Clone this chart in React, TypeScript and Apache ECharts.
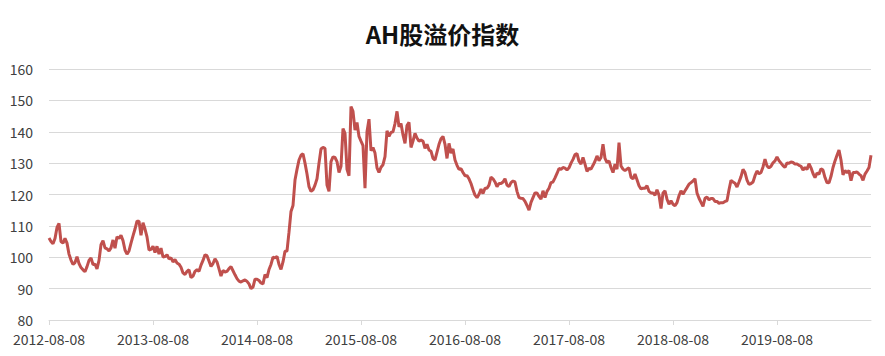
import React, { useEffect, useRef } from "react";
import * as echarts from "echarts";

// Weekly readings of the AH premium index, starting 2012-08-08
const seg2012_2013: number[] = [
  106.1, 105, 104.3, 106, 109.5, 110.8, 105, 104.5, 106, 104.5,
  101, 99.1, 97.7, 98.3, 100.2, 98, 96.7, 96, 95.4, 97,
  99, 99.8, 97.7, 97.8, 96.3, 99, 104, 105.3, 103, 102.7,
  102, 103, 105.5, 102.9, 106.5, 106, 107, 105.3, 102.3, 101,
  102, 104.5, 106.8, 109, 111.5, 111.5, 107, 111, 109, 106.5,
  102.3, 102.5, 103.5, 101.5, 103.5, 101, 102.9, 100.1, 100.2, 100.8,
  99.5, 99.8, 98.5, 99.3, 98.2, 97.8, 96.8, 95, 94.5, 95.5,
];
const seg2014: number[] = [
  96, 93.5, 94, 95.5, 96, 95.5, 97.5, 99, 100.8, 100.5,
  98.8, 97.1, 98, 99.5, 98.5, 96.3, 94, 95.8, 95.3, 95.5,
  96.4, 97, 95.7, 94.4, 93.2, 92.4, 92.1, 92.5, 92.8, 92.3,
  91.5, 90, 90.5, 93, 93, 92.6, 91.8, 91.5, 94.5, 93.5,
  96.1, 97.7, 100, 99.8, 100.3, 97.7, 96.1, 98.5, 101.9, 102,
  108, 114.6, 116.5,
];
const seg2015a: number[] = [
  124.6, 128, 131, 132.5, 133, 130, 126.5, 122.5, 121, 121.5, 123, 125, 130, 134.5, 135,
];
const seg2015b: number[] = [
  134.7, 123, 121, 130.5, 132, 131.8, 130.5, 127, 129, 141,
  139.5, 128, 126, 148, 146.5, 140.5, 143, 138.5, 137, 135.6,
  122, 140, 144, 134, 135, 133.2, 128.5, 127, 128.7, 129.5,
  132.1, 140.3, 138.5, 139.8, 140, 142.6, 146.5, 141.6, 142.6, 139,
  136.3, 142, 143, 135, 137, 139.5, 138, 137, 137.4, 137,
  134.7, 136, 134.2, 133.8, 131.5, 131, 133.5, 136, 137.8, 138.5,
  136, 131.5, 136.3, 133.2, 134.5, 131, 129.3, 128, 128.2, 127,
];
const seg2016_2017: number[] = [
  126, 126, 125, 123.5, 121.5, 119.8, 119, 120.1, 121.7, 120.3,
  122, 122, 123, 125.5, 125, 124, 122.5, 123.5, 123.5, 124,
  125, 123, 122.5, 123.8, 124.3, 124, 121, 119, 118.8, 118.7,
  117.8, 116.5, 115, 117.5, 119, 120.5, 120.5, 119.4, 118.5, 121.2,
  119, 121, 122, 123.8, 124, 125.3, 126.7, 128.3, 128, 128.6,
  128.4, 127.8, 128.5, 130, 131.2, 132.7, 133, 130.6, 129.7, 131.8,
  129.7, 127.4, 128.3, 128.1, 129.3, 130.6, 132.3, 130.8, 131.8, 136,
];
const seg2018: number[] = [
  131.5, 130.2, 130.7, 128.6, 127, 129.7, 128.1, 136.5, 129.1, 128.1,
  127.6, 128.1, 128.5, 125.5, 125, 126.5, 124.7, 122.8, 121.8, 122,
  122, 122.8, 121, 120.5, 120.5, 119.8, 121.5, 119.8, 115.5, 120.5,
  121.2, 118.5, 116.9, 118, 116.9, 116.4, 117.4, 119.6, 121.2, 120.1,
  121.2, 122.2, 123.3, 123.8, 124.3, 125, 120.5, 118.8, 117.5, 116.2,
  118.8, 119.2, 118.3, 118.7, 118.7, 117.8, 117.8, 117.2, 117.4, 117.4,
  117.8, 118, 121.5, 124.5, 124, 123.6, 122.4, 124, 125.7, 128,
];
const seg2019_2020: number[] = [
  127, 124.6, 123.2, 123.5, 124, 126, 127.5, 126.6, 127, 128.8,
  131.3, 129.1, 128.5, 129, 130.1, 130.7, 132, 130.8, 130, 129.2,
  128.6, 130.1, 129.9, 130.4, 130.2, 129.7, 129.7, 129.3, 129, 127.8,
  128.6, 128, 129.8, 128.5, 126.7, 125.4, 126.8, 126.5, 128.2, 127.8,
  125.4, 123.8, 123.7, 125.8, 128.6, 130.7, 132.5, 134.2, 131, 126.3,
  127.6, 127, 127.6, 124.4, 127, 127, 127.2, 126.5, 126, 124.5,
  126.5, 127.5, 128.6, 132.5,
];

const tickLabels: string[] = [
  "2012-08-08", "2013-08-08", "2014-08-08", "2015-08-08",
  "2016-08-08", "2017-08-08", "2018-08-08", "2019-08-08",
];

const values: number[] = [
  ...seg2012_2013, ...seg2014, ...seg2015a, ...seg2015b,
  ...seg2016_2017, ...seg2018, ...seg2019_2020,
];

const WEEKS_PER_LABEL = 52;
const pad = (n: number) => (n < 10 ? "0" + n : "" + n);
const categories: string[] = values.map((_, i) => {
  const k = Math.floor(i / WEEKS_PER_LABEL);
  if (i % WEEKS_PER_LABEL === 0 && tickLabels[k]) return tickLabels[k];
  const base = Date.UTC(2012 + k, 7, 8) + (i % WEEKS_PER_LABEL) * 7 * 86400000;
  const d = new Date(base);
  return d.getUTCFullYear() + "-" + pad(d.getUTCMonth() + 1) + "-" + pad(d.getUTCDate());
});

export default function App() {
  const ref = useRef<HTMLDivElement>(null);
  useEffect(() => {
    if (!ref.current) return;
    const chart = echarts.init(ref.current, undefined, { renderer: "svg" });
    const font = "'Noto Sans CJK SC', 'Noto Sans', sans-serif";
    chart.setOption({
      animation: false,
      backgroundColor: "#ffffff",
      title: {
        text: "AH股溢价指数",
        left: "center",
        top: 16,
        textStyle: { fontSize: 24, fontWeight: "bold", color: "#111111", fontFamily: font },
      },
      grid: { left: 49, right: 14, top: 69, bottom: 36, containLabel: false },
      xAxis: {
        type: "category",
        data: categories,
        boundaryGap: false,
        axisLine: { lineStyle: { color: "#d9d9d9", width: 1 } },
        axisTick: { show: true, interval: WEEKS_PER_LABEL - 1, length: 5, lineStyle: { color: "#d9d9d9" } },
        axisLabel: {
          interval: WEEKS_PER_LABEL - 1,
          color: "#404040",
          fontSize: 14,
          fontFamily: font,
          margin: 12,
        },
        splitLine: { show: false },
      },
      yAxis: {
        type: "value",
        min: 80,
        max: 160,
        interval: 10,
        axisLine: { show: false },
        axisTick: { show: false },
        axisLabel: { color: "#404040", fontSize: 14, fontFamily: font, margin: 16 },
        splitLine: { lineStyle: { color: "#d9d9d9", width: 1 } },
      },
      series: [
        {
          type: "line",
          data: values,
          showSymbol: false,
          symbol: "none",
          lineStyle: { color: "#C0504D", width: 3 },
          itemStyle: { color: "#C0504D" },
        },
      ],
    });
    return () => chart.dispose();
  }, []);
  return (
    <div
      ref={ref}
      style={{ position: "fixed", left: 0, top: 0, width: 885, height: 356 }}
    />
  );
}
